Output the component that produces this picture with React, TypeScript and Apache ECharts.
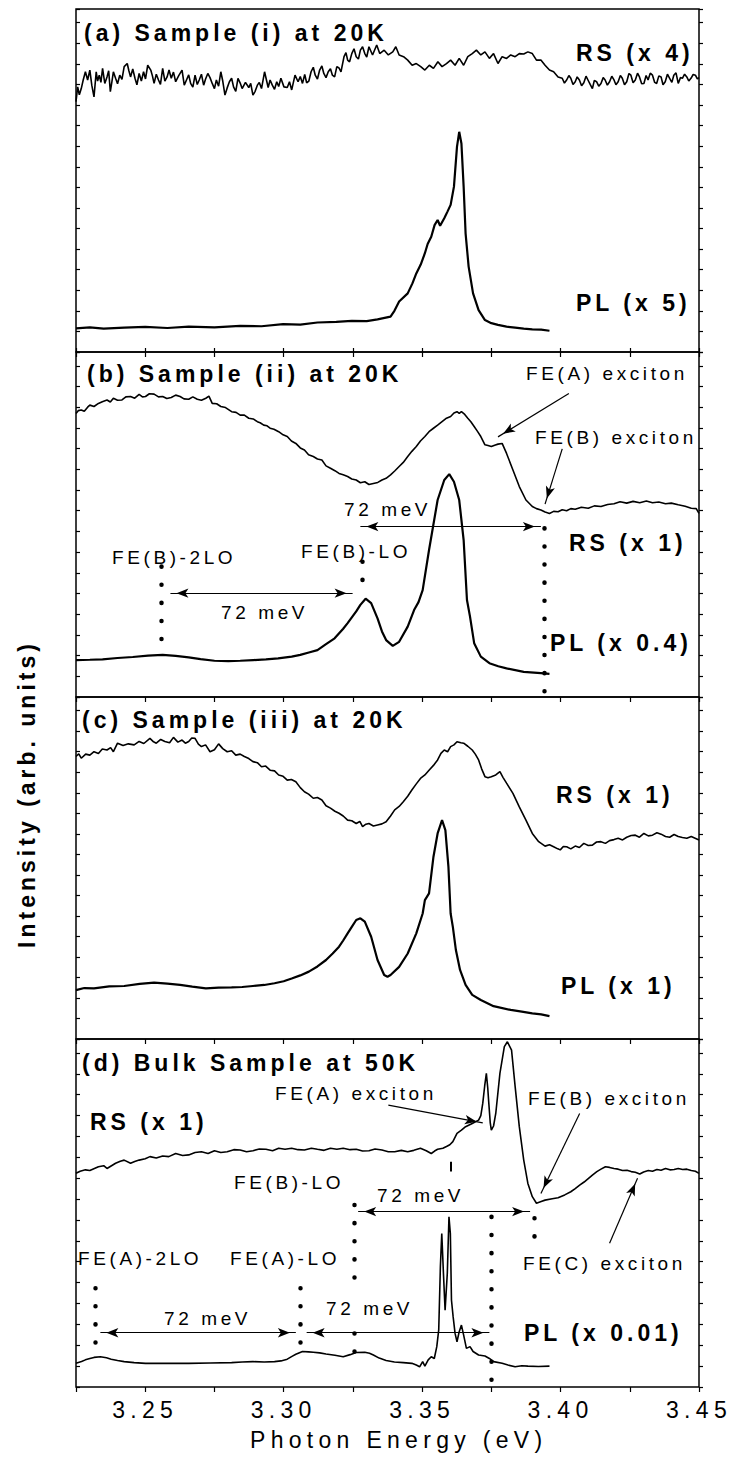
import React, { useEffect, useRef } from "react";
import * as echarts from "echarts";

// ---------- axis ----------
const X_MIN = 3.225;
const X_MAX = 3.45;
const X_STEP = 0.025;
const X_TITLE = "Photon Energy (eV)";
const Y_TITLE = "Intensity (arb. units)";

// ---------- panel (a): Sample (i) at 20K ----------
const rsA: [number, number][] = [
  [3.2250, 73.0], [3.2256, 77.3], [3.2262, 75.0], [3.2269, 76.8], [3.2276, 79.3], [3.2284, 81.7], [3.2292, 79.3],
  [3.2300, 82.2], [3.2307, 77.8], [3.2315, 74.4], [3.2323, 81.7], [3.2328, 79.0], [3.2334, 80.7], [3.2340, 78.6],
  [3.2346, 82.7], [3.2354, 78.3], [3.2362, 80.2], [3.2368, 82.0], [3.2374, 75.9], [3.2380, 79.0], [3.2385, 81.7],
  [3.2393, 79.8], [3.2400, 78.2], [3.2408, 80.7], [3.2416, 79.5], [3.2424, 83.2], [3.2435, 84.1], [3.2441, 82.0],
  [3.2447, 80.2], [3.2455, 82.5], [3.2463, 79.8], [3.2470, 77.9], [3.2478, 81.2], [3.2486, 79.0], [3.2494, 81.7],
  [3.2501, 79.6], [3.2509, 83.6], [3.2520, 82.2], [3.2526, 80.5], [3.2532, 78.3], [3.2540, 81.0], [3.2548, 79.3],
  [3.2555, 78.0], [3.2563, 82.7], [3.2571, 79.0], [3.2579, 80.2], [3.2586, 82.2], [3.2594, 79.8], [3.2602, 81.6],
  [3.2610, 78.8], [3.2621, 80.6], [3.2633, 82.2], [3.2641, 77.8], [3.2649, 79.3], [3.2657, 80.8], [3.2664, 78.3],
  [3.2672, 77.2], [3.2680, 80.7], [3.2688, 78.0], [3.2695, 79.3], [3.2703, 81.0], [3.2711, 77.8], [3.2718, 79.6],
  [3.2726, 81.2], [3.2734, 80.0], [3.2742, 78.3], [3.2750, 76.8], [3.2757, 79.3], [3.2765, 77.5], [3.2773, 81.7],
  [3.2780, 79.0], [3.2788, 74.9], [3.2796, 77.0], [3.2804, 78.8], [3.2812, 79.8], [3.2819, 77.3], [3.2827, 76.0],
  [3.2835, 79.8], [3.2843, 78.4], [3.2850, 76.8], [3.2862, 78.6], [3.2874, 77.1], [3.2881, 78.3], [3.2889, 74.9],
  [3.2897, 76.0], [3.2905, 77.8], [3.2912, 78.6], [3.2920, 76.8], [3.2931, 81.7], [3.2944, 77.1], [3.2951, 79.3],
  [3.2959, 77.8], [3.2967, 76.6], [3.2975, 78.8], [3.2982, 77.4], [3.2990, 79.8], [3.3001, 77.3], [3.3013, 77.1],
  [3.3021, 78.8], [3.3029, 76.4], [3.3041, 80.7], [3.3052, 78.8], [3.3060, 80.3], [3.3068, 78.3], [3.3076, 80.9],
  [3.3083, 78.5], [3.3091, 79.0], [3.3099, 81.7], [3.3107, 83.0], [3.3114, 80.7], [3.3122, 79.6], [3.3130, 82.2],
  [3.3138, 83.4], [3.3145, 81.2], [3.3153, 80.0], [3.3161, 81.7], [3.3169, 82.6], [3.3176, 80.7], [3.3184, 80.2],
  [3.3192, 83.2], [3.3200, 82.8], [3.3207, 81.7], [3.3218, 86.1], [3.3225, 87.3], [3.3231, 85.1], [3.3238, 84.6],
  [3.3246, 87.0], [3.3254, 88.4], [3.3262, 86.1], [3.3270, 85.4], [3.3277, 88.0], [3.3285, 89.0], [3.3293, 87.0],
  [3.3300, 86.0], [3.3308, 89.0], [3.3321, 86.6], [3.3336, 89.5], [3.3347, 87.0], [3.3363, 88.0], [3.3378, 86.6],
  [3.3394, 87.5], [3.3405, 89.0], [3.3417, 86.6], [3.3433, 86.1], [3.3448, 85.1], [3.3464, 83.6], [3.3479, 84.1],
  [3.3495, 83.2], [3.3510, 82.2], [3.3526, 83.6], [3.3541, 82.7], [3.3557, 84.6], [3.3572, 83.2], [3.3588, 84.1],
  [3.3603, 85.1], [3.3619, 83.6], [3.3634, 85.6], [3.3650, 83.6], [3.3665, 86.1], [3.3681, 87.0], [3.3696, 88.0],
  [3.3712, 86.6], [3.3727, 87.5], [3.3743, 85.6], [3.3758, 87.0], [3.3774, 84.1], [3.3789, 86.1], [3.3805, 85.6],
  [3.3820, 86.6], [3.3836, 86.1], [3.3851, 87.0], [3.3867, 86.9], [3.3882, 87.5], [3.3898, 87.0], [3.3913, 85.1],
  [3.3929, 85.1], [3.3944, 83.6], [3.3960, 82.2], [3.3975, 81.7], [3.3991, 80.2], [3.4006, 79.8], [3.4014, 78.4],
  [3.4022, 79.3], [3.4030, 80.6], [3.4037, 79.8], [3.4045, 78.0], [3.4053, 78.8], [3.4060, 80.2], [3.4068, 79.3],
  [3.4076, 77.6], [3.4084, 78.5], [3.4092, 80.4], [3.4099, 79.3], [3.4107, 78.0], [3.4115, 76.8], [3.4122, 79.2],
  [3.4130, 78.8], [3.4138, 77.5], [3.4146, 78.3], [3.4154, 80.0], [3.4161, 79.3], [3.4169, 77.8], [3.4177, 78.8],
  [3.4185, 80.4], [3.4192, 79.5], [3.4200, 77.9], [3.4208, 78.8], [3.4216, 80.6], [3.4223, 79.8], [3.4231, 77.9],
  [3.4239, 78.8], [3.4247, 81.2], [3.4254, 80.7], [3.4262, 78.5], [3.4270, 79.3], [3.4278, 81.3], [3.4285, 80.2],
  [3.4293, 78.2], [3.4301, 78.3], [3.4309, 80.6], [3.4316, 79.3], [3.4324, 81.3], [3.4332, 80.7], [3.4340, 78.6],
  [3.4347, 78.3], [3.4355, 80.5], [3.4363, 80.2], [3.4370, 77.9], [3.4378, 78.8], [3.4386, 81.0], [3.4394, 79.8],
  [3.4402, 78.6], [3.4409, 80.7], [3.4417, 81.4], [3.4425, 78.3], [3.4433, 80.0], [3.4440, 79.8], [3.4448, 81.0],
  [3.4456, 80.2], [3.4463, 79.0], [3.4471, 79.8], [3.4479, 80.9], [3.4487, 80.7], [3.4494, 79.6], [3.4500, 80.0],
];
const plA: [number, number][] = [
  [3.2250, 6.9], [3.2300, 7.2], [3.2350, 6.8], [3.2424, 7.1], [3.2500, 7.3], [3.2580, 7.0], [3.2657, 7.4],
  [3.2750, 7.2], [3.2843, 7.6], [3.2920, 7.5], [3.2998, 8.1], [3.3060, 8.0], [3.3122, 8.6], [3.3190, 8.8],
  [3.3246, 9.1], [3.3300, 9.0], [3.3339, 9.5], [3.3386, 10.3], [3.3400, 12.0], [3.3417, 14.7], [3.3448, 17.1],
  [3.3465, 20.0], [3.3479, 22.9], [3.3495, 25.5], [3.3510, 28.8], [3.3520, 31.5], [3.3533, 33.6], [3.3545, 37.0],
  [3.3556, 38.5], [3.3565, 36.8], [3.3580, 39.0], [3.3592, 41.0], [3.3603, 42.9], [3.3615, 48.2], [3.3626, 59.9],
  [3.3634, 64.2], [3.3642, 60.8], [3.3650, 48.2], [3.3657, 34.6], [3.3668, 24.9], [3.3684, 17.1], [3.3704, 12.2],
  [3.3727, 9.3], [3.3750, 8.4], [3.3774, 7.9], [3.3805, 7.4], [3.3836, 7.1], [3.3867, 6.8], [3.3898, 6.6],
  [3.3930, 6.5], [3.3960, 6.2],
];

// ---------- panel (b): Sample (ii) at 20K ----------
const rsB: [number, number][] = [
  [3.2250, 82.2], [3.2258, 83.0], [3.2269, 83.2], [3.2280, 82.8], [3.2292, 84.0], [3.2300, 84.6], [3.2315, 84.2],
  [3.2331, 85.1], [3.2345, 85.6], [3.2362, 86.1], [3.2374, 85.5], [3.2385, 86.6], [3.2400, 86.0], [3.2416, 86.1],
  [3.2430, 87.0], [3.2447, 87.1], [3.2462, 86.6], [3.2478, 87.7], [3.2490, 87.0], [3.2501, 87.1], [3.2515, 87.9],
  [3.2532, 87.8], [3.2548, 87.0], [3.2563, 87.1], [3.2578, 86.5], [3.2594, 86.8], [3.2610, 87.5], [3.2626, 87.1],
  [3.2640, 86.4], [3.2657, 86.3], [3.2672, 87.0], [3.2688, 86.3], [3.2703, 86.0], [3.2719, 86.6], [3.2730, 87.2],
  [3.2742, 85.1], [3.2758, 85.0], [3.2773, 84.2], [3.2790, 83.9], [3.2812, 82.7], [3.2828, 82.5], [3.2843, 81.7],
  [3.2858, 81.7], [3.2874, 80.8], [3.2890, 80.6], [3.2905, 79.8], [3.2915, 79.5], [3.2928, 78.8], [3.2940, 78.6],
  [3.2951, 77.9], [3.2965, 77.6], [3.2982, 76.9], [3.2998, 76.0], [3.3013, 75.5], [3.3028, 74.2], [3.3044, 73.5],
  [3.3060, 72.2], [3.3075, 71.6], [3.3090, 70.2], [3.3107, 69.7], [3.3122, 69.0], [3.3138, 68.7], [3.3153, 67.0],
  [3.3169, 66.3], [3.3185, 65.6], [3.3200, 64.8], [3.3215, 64.4], [3.3231, 63.9], [3.3246, 63.2], [3.3262, 62.9],
  [3.3277, 62.1], [3.3293, 62.4], [3.3308, 61.6], [3.3324, 61.9], [3.3340, 62.2], [3.3355, 62.9], [3.3370, 63.4],
  [3.3386, 64.4], [3.3401, 65.5], [3.3417, 66.8], [3.3432, 68.0], [3.3448, 69.7], [3.3463, 71.2], [3.3479, 72.6],
  [3.3494, 74.2], [3.3510, 75.5], [3.3525, 76.9], [3.3541, 77.9], [3.3556, 78.8], [3.3572, 79.8], [3.3588, 80.8],
  [3.3603, 81.3], [3.3615, 82.3], [3.3626, 82.7], [3.3634, 82.2], [3.3642, 82.7], [3.3654, 81.9], [3.3665, 80.8],
  [3.3676, 79.8], [3.3688, 78.4], [3.3700, 77.0], [3.3712, 75.5], [3.3727, 73.1], [3.3738, 72.9], [3.3750, 72.6],
  [3.3762, 73.0], [3.3774, 73.3], [3.3789, 73.5], [3.3805, 70.6], [3.3828, 65.8], [3.3851, 61.0], [3.3875, 57.1],
  [3.3898, 55.2], [3.3913, 54.6], [3.3929, 54.2], [3.3944, 53.6], [3.3960, 53.2], [3.3975, 53.8], [3.3991, 53.7],
  [3.4006, 54.3], [3.4022, 54.0], [3.4037, 54.6], [3.4053, 54.4], [3.4075, 55.0], [3.4100, 54.7], [3.4122, 55.4],
  [3.4146, 55.2], [3.4170, 55.8], [3.4193, 56.0], [3.4215, 56.6], [3.4239, 56.2], [3.4262, 56.7], [3.4286, 56.3],
  [3.4310, 56.8], [3.4332, 56.3], [3.4355, 56.5], [3.4379, 56.0], [3.4400, 56.2], [3.4425, 55.7], [3.4450, 55.3],
  [3.4472, 54.7], [3.4490, 54.6], [3.4500, 53.2],
];
const plB: [number, number][] = [
  [3.2250, 10.7], [3.2300, 10.8], [3.2346, 10.9], [3.2400, 11.3], [3.2455, 11.6], [3.2510, 12.0], [3.2563, 12.2],
  [3.2610, 11.9], [3.2657, 11.5], [3.2700, 11.0], [3.2750, 10.5], [3.2800, 10.4], [3.2843, 10.5], [3.2890, 10.7],
  [3.2936, 10.9], [3.2980, 11.2], [3.3029, 11.7], [3.3060, 12.2], [3.3091, 12.9], [3.3122, 13.6], [3.3153, 15.3],
  [3.3184, 17.0], [3.3215, 19.8], [3.3231, 21.4], [3.3262, 24.8], [3.3277, 26.7], [3.3296, 28.5], [3.3316, 27.2],
  [3.3339, 22.8], [3.3355, 19.0], [3.3370, 16.5], [3.3394, 14.8], [3.3417, 16.0], [3.3448, 20.4], [3.3471, 25.2],
  [3.3487, 27.5], [3.3502, 31.0], [3.3525, 42.6], [3.3556, 57.1], [3.3580, 62.9], [3.3598, 64.6], [3.3615, 62.4],
  [3.3634, 57.1], [3.3650, 45.5], [3.3662, 28.1], [3.3673, 23.3], [3.3688, 15.6], [3.3712, 11.7], [3.3743, 9.8],
  [3.3775, 8.9], [3.3805, 8.3], [3.3867, 7.3], [3.3929, 6.9], [3.3960, 6.7],
];

// ---------- panel (c): Sample (iii) at 20K ----------
const rsC: [number, number][] = [
  [3.2250, 82.6], [3.2260, 83.4], [3.2269, 82.1], [3.2285, 83.3], [3.2300, 83.0], [3.2315, 84.0], [3.2331, 83.5],
  [3.2345, 84.8], [3.2362, 84.5], [3.2375, 85.2], [3.2385, 84.0], [3.2400, 86.5], [3.2420, 85.8], [3.2439, 86.3],
  [3.2460, 86.0], [3.2478, 87.0], [3.2495, 86.4], [3.2517, 87.9], [3.2530, 86.9], [3.2540, 86.5], [3.2556, 87.6],
  [3.2571, 87.0], [3.2588, 86.6], [3.2602, 88.2], [3.2618, 86.8], [3.2633, 87.4], [3.2645, 86.5], [3.2657, 87.0],
  [3.2668, 88.0], [3.2680, 87.9], [3.2692, 86.2], [3.2703, 85.5], [3.2718, 86.0], [3.2734, 84.0], [3.2750, 84.6],
  [3.2765, 86.3], [3.2780, 84.9], [3.2796, 84.0], [3.2812, 84.3], [3.2827, 83.0], [3.2843, 83.3], [3.2858, 82.6],
  [3.2874, 82.0], [3.2889, 81.1], [3.2905, 80.8], [3.2920, 79.6], [3.2935, 79.8], [3.2951, 78.6], [3.2967, 78.4],
  [3.2982, 77.2], [3.2998, 76.8], [3.3013, 75.7], [3.3028, 75.9], [3.3044, 75.2], [3.3060, 73.5], [3.3075, 72.3],
  [3.3090, 71.6], [3.3107, 70.4], [3.3122, 70.6], [3.3138, 69.9], [3.3153, 68.2], [3.3169, 67.5], [3.3185, 66.6],
  [3.3200, 66.0], [3.3215, 65.2], [3.3231, 64.0], [3.3246, 63.8], [3.3262, 63.0], [3.3275, 63.6], [3.3285, 62.1],
  [3.3297, 62.8], [3.3308, 63.0], [3.3324, 62.3], [3.3339, 62.6], [3.3355, 62.9], [3.3370, 63.5], [3.3386, 65.2],
  [3.3401, 67.0], [3.3417, 68.0], [3.3432, 69.4], [3.3448, 71.0], [3.3463, 72.8], [3.3479, 74.6], [3.3494, 76.2],
  [3.3510, 77.2], [3.3525, 78.6], [3.3541, 80.0], [3.3556, 81.6], [3.3568, 83.5], [3.3580, 84.5], [3.3592, 84.0],
  [3.3603, 85.5], [3.3615, 86.0], [3.3626, 86.9], [3.3640, 86.6], [3.3650, 86.5], [3.3665, 85.6], [3.3681, 84.5],
  [3.3692, 83.3], [3.3704, 81.6], [3.3715, 79.0], [3.3727, 76.7], [3.3738, 76.4], [3.3750, 76.7], [3.3766, 77.2],
  [3.3781, 78.2], [3.3792, 76.5], [3.3805, 74.8], [3.3828, 71.8], [3.3851, 67.9], [3.3875, 64.0], [3.3898, 60.1],
  [3.3921, 57.7], [3.3944, 56.4], [3.3960, 56.8], [3.3975, 56.2], [3.3990, 55.6], [3.3999, 55.3], [3.4010, 56.3],
  [3.4022, 56.2], [3.4037, 55.6], [3.4053, 56.4], [3.4068, 56.0], [3.4084, 57.2], [3.4100, 56.6], [3.4115, 56.7],
  [3.4130, 57.6], [3.4146, 57.7], [3.4162, 57.2], [3.4177, 58.0], [3.4193, 58.3], [3.4208, 58.7], [3.4224, 58.2],
  [3.4239, 59.0], [3.4255, 59.5], [3.4270, 59.6], [3.4285, 59.0], [3.4301, 60.1], [3.4317, 59.4], [3.4332, 59.6],
  [3.4348, 60.3], [3.4363, 59.9], [3.4379, 59.2], [3.4394, 59.0], [3.4410, 59.8], [3.4425, 59.2], [3.4440, 58.9],
  [3.4456, 58.7], [3.4472, 59.2], [3.4500, 58.2],
];
const plC: [number, number][] = [
  [3.2250, 14.3], [3.2280, 14.9], [3.2315, 14.8], [3.2370, 15.4], [3.2424, 15.5], [3.2480, 16.1], [3.2532, 16.5],
  [3.2580, 16.2], [3.2626, 15.8], [3.2670, 15.3], [3.2719, 14.8], [3.2765, 15.0], [3.2812, 15.1], [3.2850, 15.2],
  [3.2889, 15.5], [3.2930, 15.8], [3.2967, 16.3], [3.3000, 16.9], [3.3029, 17.7], [3.3060, 18.6], [3.3091, 19.7],
  [3.3122, 21.2], [3.3153, 23.1], [3.3177, 25.0], [3.3200, 27.0], [3.3215, 28.8], [3.3231, 30.9], [3.3246, 32.8],
  [3.3262, 34.8], [3.3277, 35.3], [3.3293, 34.3], [3.3316, 29.9], [3.3339, 23.1], [3.3363, 18.7], [3.3375, 18.2],
  [3.3386, 18.7], [3.3417, 21.1], [3.3448, 25.0], [3.3479, 30.9], [3.3502, 36.7], [3.3510, 40.6], [3.3525, 42.6],
  [3.3541, 53.3], [3.3556, 60.1], [3.3572, 64.0], [3.3584, 61.1], [3.3595, 50.4], [3.3603, 36.7], [3.3611, 32.8],
  [3.3622, 26.0], [3.3637, 20.2], [3.3657, 15.8], [3.3681, 12.9], [3.3712, 11.4], [3.3758, 9.6], [3.3820, 8.5],
  [3.3860, 8.0], [3.3898, 7.5], [3.3930, 7.2], [3.3960, 6.7],
];

// ---------- panel (d): Bulk Sample at 50K ----------
const rsD: [number, number][] = [
  [3.2250, 61.4], [3.2265, 62.0], [3.2284, 62.4], [3.2300, 62.2], [3.2331, 63.3], [3.2350, 63.6], [3.2362, 62.8],
  [3.2393, 64.3], [3.2410, 64.9], [3.2424, 65.2], [3.2447, 64.3], [3.2462, 64.8], [3.2478, 65.2], [3.2500, 65.6],
  [3.2517, 66.2], [3.2540, 65.8], [3.2563, 66.4], [3.2585, 66.2], [3.2610, 67.1], [3.2635, 66.5], [3.2657, 66.7],
  [3.2680, 67.4], [3.2703, 67.6], [3.2727, 67.1], [3.2750, 67.9], [3.2773, 67.4], [3.2796, 67.6], [3.2820, 68.2],
  [3.2843, 68.1], [3.2866, 67.6], [3.2889, 67.9], [3.2912, 68.4], [3.2936, 68.3], [3.2960, 67.9], [3.2982, 68.6],
  [3.3005, 68.3], [3.3029, 68.6], [3.3052, 68.2], [3.3075, 68.1], [3.3100, 68.6], [3.3122, 68.3], [3.3146, 68.0],
  [3.3169, 68.6], [3.3192, 68.3], [3.3215, 68.6], [3.3240, 68.2], [3.3262, 68.3], [3.3285, 67.8], [3.3308, 67.9],
  [3.3330, 68.4], [3.3355, 68.1], [3.3378, 67.6], [3.3401, 67.6], [3.3425, 68.0], [3.3448, 67.6], [3.3470, 68.0],
  [3.3494, 68.6], [3.3515, 67.9], [3.3533, 67.1], [3.3545, 67.8], [3.3556, 68.3], [3.3575, 68.6], [3.3588, 69.1],
  [3.3600, 69.6], [3.3611, 70.5], [3.3626, 72.9], [3.3642, 73.8], [3.3657, 74.8], [3.3681, 75.7], [3.3704, 76.7],
  [3.3712, 78.0], [3.3719, 81.5], [3.3726, 86.5], [3.3732, 90.1], [3.3737, 86.0], [3.3740, 82.5], [3.3746, 76.0],
  [3.3750, 73.8], [3.3758, 75.0], [3.3766, 78.6], [3.3781, 90.1], [3.3797, 97.8], [3.3808, 99.2], [3.3823, 96.8],
  [3.3836, 86.3], [3.3851, 74.8], [3.3867, 65.2], [3.3882, 58.5], [3.3898, 54.7], [3.3913, 52.8], [3.3930, 53.3],
  [3.3944, 53.7], [3.3970, 54.1], [3.3991, 54.4], [3.4015, 55.2], [3.4037, 56.1], [3.4053, 57.0], [3.4069, 58.0],
  [3.4085, 58.9], [3.4100, 59.9], [3.4115, 60.9], [3.4131, 61.9], [3.4146, 62.6], [3.4162, 63.3], [3.4177, 63.1],
  [3.4193, 62.8], [3.4208, 62.6], [3.4224, 62.2], [3.4240, 62.3], [3.4255, 61.9], [3.4270, 61.7], [3.4286, 61.2],
  [3.4300, 61.8], [3.4317, 62.2], [3.4332, 62.0], [3.4348, 62.5], [3.4363, 62.3], [3.4379, 62.8], [3.4395, 62.4],
  [3.4410, 62.5], [3.4425, 62.8], [3.4441, 62.5], [3.4456, 62.6], [3.4472, 62.2], [3.4487, 62.0], [3.4500, 61.4],
];
const plD: [number, number][] = [
  [3.2250, 6.8], [3.2270, 7.3], [3.2284, 7.8], [3.2300, 8.2], [3.2315, 8.5], [3.2338, 8.7], [3.2360, 8.4],
  [3.2377, 8.0], [3.2400, 7.6], [3.2424, 7.3], [3.2460, 7.0], [3.2501, 6.8], [3.2580, 6.8], [3.2657, 6.8],
  [3.2735, 6.9], [3.2812, 7.0], [3.2850, 7.2], [3.2889, 7.3], [3.2930, 7.2], [3.2967, 7.3], [3.2990, 7.5],
  [3.3013, 8.0], [3.3030, 8.8], [3.3044, 9.4], [3.3068, 10.2], [3.3090, 10.1], [3.3107, 10.0], [3.3130, 9.8],
  [3.3153, 9.5], [3.3185, 9.1], [3.3215, 8.7], [3.3240, 9.3], [3.3262, 9.9], [3.3293, 10.0], [3.3310, 9.7],
  [3.3324, 9.2], [3.3345, 8.3], [3.3370, 7.6], [3.3400, 7.2], [3.3432, 7.0], [3.3463, 6.8], [3.3479, 6.3],
  [3.3491, 5.8], [3.3502, 7.3], [3.3510, 6.0], [3.3522, 7.8], [3.3533, 8.7], [3.3544, 8.2], [3.3553, 11.6],
  [3.3560, 16.4], [3.3566, 34.6], [3.3571, 44.1], [3.3577, 32.7], [3.3583, 22.1], [3.3591, 32.7], [3.3597, 48.9],
  [3.3602, 44.1], [3.3606, 25.0], [3.3612, 20.2], [3.3619, 15.4], [3.3626, 13.0], [3.3634, 15.9], [3.3642, 17.8],
  [3.3650, 14.9], [3.3660, 11.1], [3.3673, 11.6], [3.3684, 10.2], [3.3704, 9.2], [3.3727, 8.9], [3.3743, 8.2],
  [3.3758, 7.3], [3.3789, 6.8], [3.3810, 6.3], [3.3836, 5.8], [3.3860, 6.1], [3.3882, 6.0], [3.3920, 5.9],
  [3.3960, 6.0],
];

// ---------- annotations (energy in eV, levels in panel units) ----------
// double-headed "72 meV" arrows: [E from, E to, level]
const arrowsB: [number, number, number][] = [[3.3277, 3.3929, 49.4], [3.2591, 3.3249, 30.1]];
const arrowsD: [number, number, number][] = [[3.3269, 3.3890, 50.4], [3.2338, 3.3044, 15.6], [3.3083, 3.3743, 15.6]];
// pointer arrows: [E start, level start, E tip, level tip]
const pointersB: [number, number, number, number][] = [[3.4030, 88.0, 3.3774, 75.4], [3.4006, 71.9, 3.3944, 55.9]];
const pointersD: [number, number, number, number][] = [
  [3.3378, 81.0, 3.3719, 75.9], [3.4069, 78.6, 3.3929, 55.6], [3.4177, 41.3, 3.4278, 60.0],
];
// dotted markers: [E, level top, level bottom]
const dotsB: [number, number, number][] = [[3.2557, 37.8, 15.6], [3.3285, 39.2, 33.0], [3.3941, 48.9, 0.3]];
const dotsD: [number, number, number][] = [
  [3.3255, 52.3, 30.7], [3.3255, 15.4, 10.0], [3.3750, 48.9, 2.0], [3.3906, 48.5, 42.2],
  [3.2318, 28.4, 12.5], [3.3060, 28.4, 12.3],
];
const barD: [number, number, number][] = [[3.3603, 64.7, 61.9]];

const FONT = '"Liberation Sans", Arial, Helvetica, sans-serif';

const CSS = `
#ec-root text { letter-spacing: 4px; }
#ec-root text[style*="19px"] { letter-spacing: 3.6px; }
#ec-root text[style*="23px"]:not([style*="bold"]) { letter-spacing: 5.3px; }
`;

export default function App() {
  const ref = useRef<HTMLDivElement>(null);

  useEffect(() => {
    if (!ref.current) return;
    const chart = echarts.init(ref.current, null, { renderer: "svg" });

    const panels = [
      { top: 9, height: 343, rs: rsA, pl: plA },
      { top: 352, height: 345, rs: rsB, pl: plB },
      { top: 697, height: 342, rs: rsC, pl: plC },
      { top: 1039, height: 348, rs: rsD, pl: plD },
    ];

    const arrowHead = { symbol: "arrow", symbolSize: [7, 12], symbolOffset: [0, 6] };
    const arrowLine = { color: "#000", width: 1.2, type: "solid" };
    const dotLine = { color: "#000", width: 4.5, type: [0.1, 18], cap: "round" };

    const dbl = (a: [number, number, number][]) =>
      a.map(([e1, e2, v]) => [
        { coord: [e1, v], ...arrowHead, lineStyle: arrowLine },
        { coord: [e2, v], ...arrowHead },
      ]);
    const ptr = (a: [number, number, number, number][]) =>
      a.map(([e1, v1, e2, v2]) => [
        { coord: [e1, v1], symbol: "none", lineStyle: arrowLine },
        { coord: [e2, v2], ...arrowHead },
      ]);
    const dot = (a: [number, number, number][]) =>
      a.map(([e, v1, v2]) => [
        { coord: [e, v1], symbol: "none", lineStyle: dotLine },
        { coord: [e, v2], symbol: "none" },
      ]);
    const bar = (a: [number, number, number][]) =>
      a.map(([e, v1, v2]) => [
        { coord: [e, v1], symbol: "none", lineStyle: { color: "#000", width: 2, type: "solid" } },
        { coord: [e, v2], symbol: "none" },
      ]);

    const marks: any[][] = [
      [],
      [...dbl(arrowsB), ...ptr(pointersB), ...dot(dotsB)],
      [],
      [...dbl(arrowsD), ...ptr(pointersD), ...dot(dotsD), ...bar(barD)],
    ];

    const grid = panels.map((p) => ({
      left: 76,
      right: 32,
      top: p.top,
      height: p.height,
      show: true,
      borderColor: "#000",
      borderWidth: 1.5,
      backgroundColor: "transparent",
    }));

    const xAxis: any[] = panels.map((_, i) => ({
      gridIndex: i,
      type: "value",
      min: X_MIN,
      max: X_MAX,
      interval: X_STEP,
      axisLine: { show: false },
      splitLine: { show: false },
      axisTick: { show: true, inside: false, length: 5, lineStyle: { color: "#000", width: 1.2 } },
      axisLabel: {
        show: i === 3,
        margin: 11,
        color: "#000",
        fontSize: 23,
        fontFamily: FONT,
        formatter: (v: number) => {
          const k = Math.round(v * 1000);
          return k % 50 === 0 ? (k / 1000).toFixed(2) : "";
        },
      },
    }));
    xAxis.push({
      gridIndex: 0,
      type: "value",
      position: "top",
      min: X_MIN,
      max: X_MAX,
      interval: X_STEP,
      axisLine: { show: false },
      splitLine: { show: false },
      axisTick: { show: true, inside: false, length: 4, lineStyle: { color: "#000", width: 1.2 } },
      axisLabel: { show: false },
    });

    const yAxis: any[] = [];
    panels.forEach((_, i) => {
      yAxis.push({
        gridIndex: i,
        type: "value",
        min: 0,
        max: 100,
        interval: 6,
        axisLine: { show: false },
        splitLine: { show: false },
        axisLabel: { show: false },
        axisTick: { show: true, inside: true, length: 4, lineStyle: { color: "#000", width: 1.2 } },
      });
      yAxis.push({
        gridIndex: i,
        type: "value",
        position: "right",
        min: 0,
        max: 100,
        interval: 6,
        axisLine: { show: false },
        splitLine: { show: false },
        axisLabel: { show: false },
        axisTick: { show: true, inside: false, length: 4, lineStyle: { color: "#000", width: 1.2 } },
      });
    });

    const series: any[] = [];
    panels.forEach((p, i) => {
      series.push({
        type: "line",
        xAxisIndex: i,
        yAxisIndex: 2 * i,
        data: p.rs,
        symbol: "none",
        silent: true,
        lineStyle: { color: "#000", width: 1.6 },
        z: 3,
      });
      series.push({
        type: "line",
        xAxisIndex: i,
        yAxisIndex: 2 * i,
        data: p.pl,
        symbol: "none",
        silent: true,
        lineStyle: { color: "#000", width: i === 3 ? 1.6 : 2.2 },
        z: 3,
        markLine: {
          silent: true,
          animation: false,
          symbol: ["none", "none"],
          label: { show: false },
          emphasis: { disabled: true },
          data: marks[i],
        },
      });
    });

    const bold: [string, number, number][] = [
      ["(a) Sample (i) at 20K", 84, 33],
      ["RS (x 4)", 576, 53],
      ["PL (x 5)", 576, 303],
      ["(b) Sample (ii) at 20K", 87, 374],
      ["RS (x 1)", 569, 543],
      ["PL (x 0.4)", 550, 643],
      ["(c) Sample (iii) at 20K", 82, 720],
      ["RS (x 1)", 556, 795],
      ["PL (x 1)", 561, 986],
      ["(d) Bulk Sample at 50K", 82, 1063],
      ["RS (x 1)", 90, 1122],
      ["PL (x 0.01)", 524, 1333],
    ];
    const regular: [string, number, number][] = [
      ["FE(A) exciton", 526, 373],
      ["FE(B) exciton", 535, 437],
      ["72 meV", 344, 509],
      ["FE(B)-2LO", 112, 557],
      ["FE(B)-LO", 301, 551],
      ["72 meV", 221, 612],
      ["FE(A) exciton", 275, 1093],
      ["FE(B) exciton", 528, 1098],
      ["FE(B)-LO", 234, 1182],
      ["72 meV", 377, 1195],
      ["FE(A)-2LO", 78, 1258],
      ["FE(A)-LO", 230, 1258],
      ["FE(C) exciton", 523, 1263],
      ["72 meV", 164, 1318],
      ["72 meV", 326, 1308],
    ];
    const mkText = (t: string, x: number, y: number, size: number, weight: string) => ({
      type: "text",
      x,
      y,
      silent: true,
      z: 10,
      style: {
        text: t,
        fill: "#000",
        fontSize: size,
        fontWeight: weight,
        fontFamily: FONT,
        align: "left",
        verticalAlign: "middle",
        textAlign: "left",
        textVerticalAlign: "middle",
      },
    });
    const graphic: any[] = [
      ...bold.map(([t, x, y]) => mkText(t, x, y, 23, "bold")),
      ...regular.map(([t, x, y]) => mkText(t, x, y, 19, "normal")),
      mkText(X_TITLE, 250, 1440, 23, "normal"),
      {
        type: "text",
        x: 27,
        y: 794,
        rotation: Math.PI / 2,
        silent: true,
        style: {
          text: Y_TITLE,
          fill: "#000",
          fontSize: 23,
          fontWeight: "bold",
          fontFamily: FONT,
          align: "center",
          verticalAlign: "middle",
          textAlign: "center",
          textVerticalAlign: "middle",
        },
      },
    ];

    chart.setOption({
      animation: false,
      backgroundColor: "#fff",
      grid,
      xAxis,
      yAxis,
      series,
      graphic,
    });

    return () => chart.dispose();
  }, []);

  return (
    <>
      <style>{CSS}</style>
      <div
        id="ec-root"
        ref={ref}
        style={{ position: "absolute", left: 0, top: 0, width: 731, height: 1458, background: "#fff" }}
      />
    </>
  );
}
